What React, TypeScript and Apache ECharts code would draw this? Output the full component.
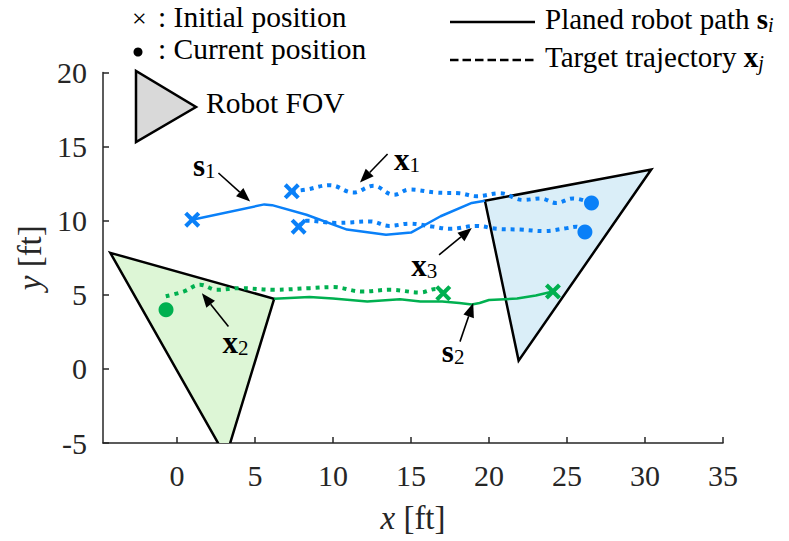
import React, { useEffect, useRef } from "react";
import * as echarts from "echarts";

// ---------- data ----------
const xTickValues = [0, 5, 10, 15, 20, 25, 30, 35];
const yTickValues = [-5, 0, 5, 10, 15, 20];

// planned robot paths (solid)
const pathS1 = [
  [0.98, 10.07], [5.6, 11.1], [6.1, 11.05], [8.3, 10.4], [10.9, 9.4], [13.4, 9.05],
  [15.0, 9.2], [16.9, 10.3], [18.9, 11.2], [19.74, 11.35],
];
const pathS2 = [
  [24.1, 5.22], [23.0, 4.95], [21.8, 4.75], [20.0, 4.65], [19.4, 4.45], [18.9, 4.35],
  [18.1, 4.45], [17.0, 4.55], [15.6, 4.55], [14.3, 4.7], [12.2, 4.55], [10.0, 4.75],
  [8.5, 4.85], [6.23, 4.73],
];

// target trajectories (dotted)
const trajX1 = [
  [7.36, 11.98], [8.3, 12.1], [9.8, 12.4], [11.3, 11.9], [12.6, 12.35], [13.9, 11.75],
  [14.9, 12.1], [16.6, 11.9], [18.1, 11.85], [19.2, 11.65], [20.7, 11.85], [22.2, 11.4],
  [23.3, 11.5], [24.3, 11.2], [25.4, 11.5], [26.57, 11.2],
];
const trajX3 = [
  [7.8, 9.6], [8.3, 10.0], [10.2, 9.85], [12.4, 9.95], [13.6, 9.65], [14.9, 9.8],
  [16.4, 9.6], [17.5, 9.45], [19.2, 9.65], [20.5, 9.45], [22.0, 9.4], [23.5, 9.3],
  [25.0, 9.5], [25.6, 9.6], [26.15, 9.23],
];
const trajX2 = [
  [17.07, 5.11], [16.6, 5.39], [15.6, 5.16], [13.65, 5.34], [11.9, 5.22], [10.0, 5.52],
  [8.53, 5.45], [6.18, 5.34], [4.05, 5.45], [2.56, 5.34], [1.49, 5.68], [0.42, 5.22],
  [-0.75, 4.89],
];

// initial (x) and current (dot) positions
const initialBlue = [[0.98, 10.07], [7.36, 11.98], [7.8, 9.6]];
const initialGreen = [[17.07, 5.11], [24.1, 5.22]];
const currentBlue = [[26.57, 11.2], [26.15, 9.23]];
const currentGreen = [[-0.7, 3.99]];

// robot field-of-view triangles
const fovBlue = [[19.74, 11.35], [30.4, 13.45], [21.9, 0.56]];
const fovGreen = [[-4.27, 7.83], [6.23, 4.73], [3.14, -5.94]];

// annotations: label, label position, arrow tail, arrow head
const annotLabels = ["s|1", "x|1", "x|3", "x|2", "s|2"];
const annotLabelPos = [[1.75, 13.75], [14.75, 14.1], [15.85, 7.0], [3.75, 1.8], [17.7, 1.2]];
const arrowTails = [[2.66, 13.22], [13.5, 14.5], [16.8, 7.7], [3.3, 2.86], [18.14, 1.84]];
const arrowHeads = [[4.69, 11.3], [11.73, 12.57], [18.9, 9.5], [1.6, 5.1], [18.99, 4.44]];

const BLUE = "#0A80F8";
const GREEN = "#00B050";
const FONT = "Liberation Serif";
const AXIS = "#262626";

const xMarker =
  "path://M2.2,0 L6,3.8 L9.8,0 L12,2.2 L8.2,6 L12,9.8 L9.8,12 L6,8.2 L2.2,12 L0,9.8 L3.8,6 L0,2.2 Z";

export default function App() {
  const ref = useRef<HTMLDivElement>(null);
  useEffect(() => {
    if (!ref.current) return;
    const chart = echarts.init(ref.current, undefined, { renderer: "svg" });

    const triData = [
      { v: fovBlue, fill: "#DAEEF8" },
      { v: fovGreen, fill: "#DDF6D6" },
    ];

    const dotted = (color: string) => ({
      color,
      width: 4,
      type: [4, 5] as any,
    });

    const subRich = {
      b: { fontFamily: FONT, fontWeight: "bold", fontSize: 31, color: "#000", lineHeight: 32 },
      sub: {
        fontFamily: FONT,
        fontSize: 21,
        color: "#000",
        verticalAlign: "bottom",
        lineHeight: 17,
      },
      n: { fontFamily: FONT, fontSize: 29, color: "#000", lineHeight: 32 },
      lb: { fontFamily: FONT, fontWeight: "bold", fontSize: 29, color: "#000", lineHeight: 32 },
      isub: {
        fontFamily: FONT,
        fontSize: 20,
        fontStyle: "italic",
        color: "#000",
        verticalAlign: "bottom",
        lineHeight: 16,
      },
    };

    chart.setOption({
      animation: false,
      grid: { left: 103, right: 66, top: 72.5, bottom: 98, containLabel: false },
      xAxis: {
        type: "value",
        min: -4.74,
        max: 35,
        name: "{i|x} [ft]",
        nameLocation: "middle",
        nameGap: 58,
        nameTextStyle: {
          fontFamily: FONT,
          fontSize: 33,
          color: AXIS,
          rich: { i: { fontFamily: FONT, fontSize: 33, fontStyle: "italic", color: AXIS } },
        },
        axisLine: { onZero: false, lineStyle: { color: AXIS, width: 1.5 } },
        axisTick: { inside: true, length: 6, customValues: xTickValues, lineStyle: { color: AXIS, width: 1.5 } },
        axisLabel: {
          customValues: xTickValues,
          fontFamily: FONT,
          fontSize: 30,
          color: AXIS,
          margin: 17,
        },
        splitLine: { show: false },
      },
      yAxis: {
        type: "value",
        min: -5,
        max: 20,
        interval: 5,
        name: "{i|y} [ft]",
        nameLocation: "middle",
        nameGap: 56,
        nameRotate: 90,
        nameTextStyle: {
          fontFamily: FONT,
          fontSize: 33,
          color: AXIS,
          rich: { i: { fontFamily: FONT, fontSize: 33, fontStyle: "italic", color: AXIS } },
        },
        axisLine: { onZero: false, lineStyle: { color: AXIS, width: 1.5 } },
        axisTick: { inside: true, length: 6, lineStyle: { color: AXIS, width: 1.5 } },
        axisLabel: { fontFamily: FONT, fontSize: 30, color: AXIS, margin: 16 },
        splitLine: { show: false },
      },
      graphic: [
        { type: "text", left: 132, top: 5, style: { text: "×", font: `26px '${FONT}'`, fill: "#000" } },
        { type: "text", left: 158, top: 2, style: { text: ": Initial position", font: `29.5px '${FONT}'`, fill: "#000" } },
        { type: "circle", shape: { cx: 138, cy: 52, r: 4.5 }, style: { fill: "#000" } },
        { type: "text", left: 158, top: 34, style: { text: ": Current position", font: `29.5px '${FONT}'`, fill: "#000" } },
        {
          type: "polygon",
          shape: { points: [[136, 71], [136, 142], [196, 107]] },
          style: { fill: "#D9D9D9", stroke: "#000", lineWidth: 2.5, lineJoin: "miter" },
        },
        { type: "text", left: 206, top: 88, style: { text: "Robot FOV", font: `29.5px '${FONT}'`, fill: "#000" } },
        { type: "line", shape: { x1: 450, y1: 22, x2: 535, y2: 22 }, style: { stroke: "#000", lineWidth: 2.5 } },
        {
          type: "line",
          shape: { x1: 450, y1: 60, x2: 535, y2: 60 },
          style: { stroke: "#000", lineWidth: 2.5, lineDash: [8.5, 4] },
        },
        {
          type: "text",
          left: 545,
          top: 4,
          style: { text: "{n|Planed robot path }{lb|s}{isub|i}", rich: subRich as any },
        },
        {
          type: "text",
          left: 545,
          top: 42,
          style: { text: "{n|Target trajectory }{lb|x}{isub|j}", rich: subRich as any },
        },
      ],
      series: [
        {
          type: "custom",
          coordinateSystem: "cartesian2d",
          clip: true,
          z: 1,
          data: triData.map((t) => t.v[0]),
          renderItem: (params: any, api: any) => {
            const t = triData[params.dataIndex];
            const pts = t.v.map((p) => api.coord(p));
            return {
              type: "polygon",
              shape: { points: pts },
              style: { fill: t.fill, stroke: "#000", lineWidth: 2.5, lineJoin: "miter" },
            };
          },
        },
        { type: "line", data: pathS1, showSymbol: false, lineStyle: { color: BLUE, width: 2.5 }, z: 3 },
        { type: "line", data: pathS2, showSymbol: false, lineStyle: { color: GREEN, width: 2.5 }, z: 3 },
        { type: "line", data: trajX1, smooth: 0.4, showSymbol: false, lineStyle: dotted(BLUE), z: 3 },
        { type: "line", data: trajX3, smooth: 0.4, showSymbol: false, lineStyle: dotted(BLUE), z: 3 },
        { type: "line", data: trajX2, smooth: 0.4, showSymbol: false, lineStyle: dotted(GREEN), z: 3 },
        { type: "scatter", data: initialBlue, symbol: xMarker, symbolSize: 16, itemStyle: { color: BLUE, opacity: 1 }, z: 4 },
        { type: "scatter", data: initialGreen, symbol: xMarker, symbolSize: 16, itemStyle: { color: GREEN, opacity: 1 }, z: 4 },
        { type: "scatter", data: currentBlue, symbol: "circle", symbolSize: 15, itemStyle: { color: BLUE, opacity: 1 }, z: 4 },
        { type: "scatter", data: currentGreen, symbol: "circle", symbolSize: 15, itemStyle: { color: GREEN, opacity: 1 }, z: 4 },
        {
          type: "custom",
          coordinateSystem: "cartesian2d",
          z: 5,
          data: arrowTails,
          renderItem: (params: any, api: any) => {
            const i = params.dataIndex;
            const a = api.coord(arrowTails[i]);
            const b = api.coord(arrowHeads[i]);
            const dx = b[0] - a[0];
            const dy = b[1] - a[1];
            const len = Math.sqrt(dx * dx + dy * dy);
            const ux = dx / len;
            const uy = dy / len;
            const hl = 14;
            const hw = 5.5;
            const base = [b[0] - ux * hl, b[1] - uy * hl];
            const l = [base[0] - uy * hw, base[1] + ux * hw];
            const r = [base[0] + uy * hw, base[1] - ux * hw];
            const [sym, sub] = annotLabels[i].split("|");
            const lp = api.coord(annotLabelPos[i]);
            return {
              type: "group",
              children: [
                {
                  type: "line",
                  shape: { x1: a[0], y1: a[1], x2: base[0], y2: base[1] },
                  style: { stroke: "#000", lineWidth: 1.6 },
                },
                { type: "polygon", shape: { points: [b, l, r] }, style: { fill: "#000" } },
                {
                  type: "text",
                  x: lp[0],
                  y: lp[1],
                  style: {
                    text: `{b|${sym}}{sub|${sub}}`,
                    rich: subRich,
                    align: "center",
                    verticalAlign: "middle",
                  },
                },
              ],
            };
          },
        },
      ],
    });
    return () => chart.dispose();
  }, []);
  return (
    <div
      ref={ref}
      style={{ position: "absolute", left: 0, top: 0, width: 789, height: 541 }}
    />
  );
}
